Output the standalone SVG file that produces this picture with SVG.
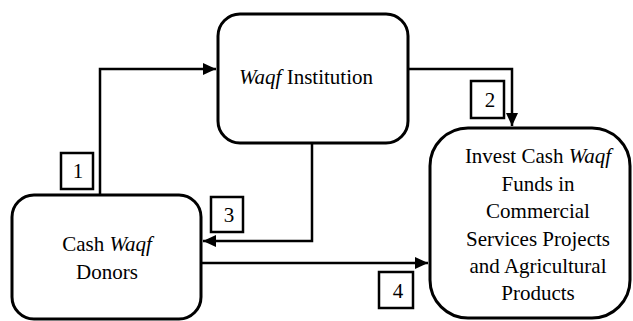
<svg xmlns="http://www.w3.org/2000/svg" width="633" height="321" viewBox="0 0 633 321">
<defs>
<style>
.node{fill:#fff;stroke:#000;stroke-width:3}
.lbl{fill:#fff;stroke:#000;stroke-width:2.5}
.edge{fill:none;stroke:#000;stroke-width:2.5}
text{font-family:"Liberation Serif","Times New Roman",serif;font-size:21px;fill:#000;text-anchor:middle}
.i{font-style:italic}
</style>
<marker id="ah" markerUnits="userSpaceOnUse" markerWidth="14" markerHeight="12" refX="13" refY="6" orient="auto">
<path d="M0,0 L13,6 L0,12 Z" fill="#000"/>
</marker>
</defs>
<rect width="633" height="321" fill="#fff"/>
<g id="connectors">
<path class="edge" d="M100,194 V69 H216" marker-end="url(#ah)"/>
<path class="edge" d="M408,69 H512 V126" marker-end="url(#ah)"/>
<path class="edge" d="M312,143 V241 H203" marker-end="url(#ah)"/>
<path class="edge" d="M201,263 H428" marker-end="url(#ah)"/>
</g>
<g id="institution">
<rect class="node" x="218" y="14" width="190" height="129" rx="22"/>
<text x="306" y="84"><tspan class="i">Waqf</tspan> Institution</text>
</g>
<g id="donors">
<rect class="node" x="12" y="195" width="189" height="124" rx="22"/>
<text x="107" y="251">Cash <tspan class="i">Waqf</tspan></text>
<text x="107" y="279">Donors</text>
</g>
<g id="invest">
<rect class="node" x="430" y="128" width="200" height="190" rx="38"/>
<text x="538" y="163">Invest Cash <tspan class="i">Waqf</tspan></text>
<text x="538" y="191">Funds in</text>
<text x="538" y="218">Commercial</text>
<text x="538" y="246">Services Projects</text>
<text x="538" y="273">and Agricultural</text>
<text x="538" y="300">Products</text>
</g>
<g id="label1">
<rect class="lbl" x="61" y="153" width="32" height="36"/>
<text x="78" y="178">1</text>
</g>
<g id="label2">
<rect class="lbl" x="471" y="81" width="33" height="37"/>
<text x="490" y="107">2</text>
</g>
<g id="label3">
<rect class="lbl" x="211" y="197" width="32" height="35"/>
<text x="229" y="222">3</text>
</g>
<g id="label4">
<rect class="lbl" x="379" y="272" width="34" height="36"/>
<text x="398" y="298">4</text>
</g>
</svg>
